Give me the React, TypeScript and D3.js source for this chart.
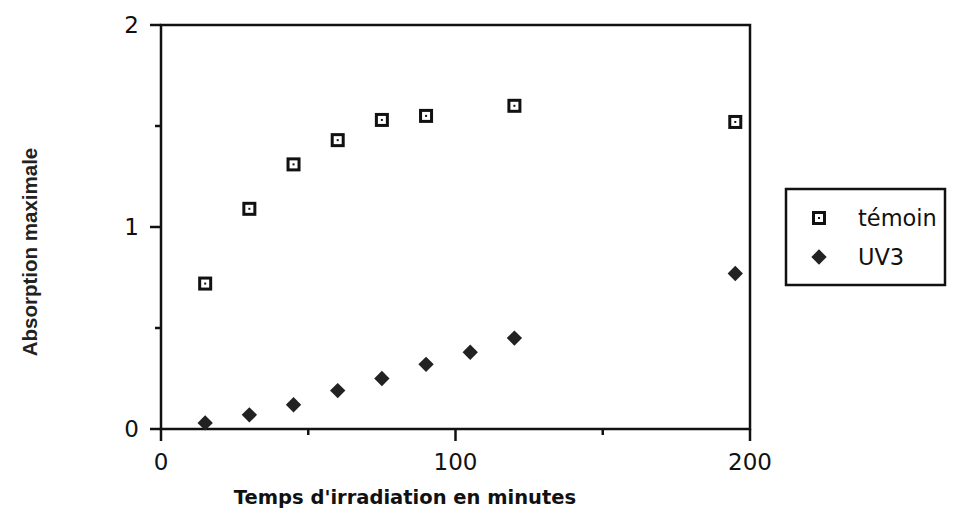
import * as d3 from 'd3';

// minutes
const temoinX = [15, 30, 45, 60, 75, 90, 120, 195];
const temoinY = [0.72, 1.09, 1.31, 1.43, 1.53, 1.55, 1.6, 1.52];
const uv3X = [15, 30, 45, 60, 75, 90, 105, 120, 195];
const uv3Y = [0.03, 0.07, 0.12, 0.19, 0.25, 0.32, 0.38, 0.45, 0.77];

const xMajor = [0, 100, 200];
const xMinor = [50, 150];
const yMajor = [0, 1, 2];
const yMinor = [0.5, 1.5];

const width = 956;
const height = 517;

export default function App() {
  const x = d3.scaleLinear().domain([0, 200]).range([161, 750]);
  const y = d3.scaleLinear().domain([0, 2]).range([429, 25]);

  const font = "'DejaVu Sans', Verdana, sans-serif";
  const diamond = d3.symbol(d3.symbolDiamond2, 150)()!;

  const square = (cx: number, cy: number, k: number) => (
    <g key={k} transform={`translate(${cx},${cy})`}>
      <rect x={-5.5} y={-5.5} width={11} height={11} fill='#fff' stroke='#111' strokeWidth={3} />
      <rect x={-1} y={-1} width={2} height={2} fill='#111' />
    </g>
  );

  return (
    <svg
      width={width}
      height={height}
      style={{ position: 'absolute', left: 0, top: 0, background: '#fff' }}
    >
      {/* frame */}
      <rect
        x={x(0)}
        y={y(2)}
        width={x(200) - x(0)}
        height={y(0) - y(2)}
        fill='none'
        stroke='#111'
        strokeWidth={2.5}
      />

      {/* y ticks */}
      {yMajor.map((v) => (
        <g key={'ym' + v}>
          <line x1={x(0) - 11} x2={x(0)} y1={y(v)} y2={y(v)} stroke='#111' strokeWidth={2.5} />
          <text
            x={x(0) - 22}
            y={y(v)}
            dy='0.36em'
            textAnchor='end'
            fontFamily={font}
            fontSize={23}
            fill='#111'
          >
            {v}
          </text>
        </g>
      ))}
      {yMinor.map((v) => (
        <line key={'yn' + v} x1={x(0) - 6} x2={x(0)} y1={y(v)} y2={y(v)} stroke='#111' strokeWidth={2.5} />
      ))}

      {/* x ticks */}
      {xMajor.map((v) => (
        <g key={'xm' + v}>
          <line x1={x(v)} x2={x(v)} y1={y(0)} y2={y(0) + 12} stroke='#111' strokeWidth={2.5} />
          <text
            x={x(v)}
            y={y(0) + 41}
            textAnchor='middle'
            fontFamily={font}
            fontSize={23}
            fill='#111'
          >
            {v}
          </text>
        </g>
      ))}
      {xMinor.map((v) => (
        <line key={'xn' + v} x1={x(v)} x2={x(v)} y1={y(0)} y2={y(0) + 6} stroke='#111' strokeWidth={2.5} />
      ))}

      {/* axis titles */}
      <text
        x={405}
        y={504}
        textAnchor='middle'
        fontFamily={font}
        fontWeight='bold'
        fontSize={19.5}
        fill='#111'
      >
        Temps d'irradiation en minutes
      </text>
      <text
        transform='translate(37,252) rotate(-90)'
        textAnchor='middle'
        fontFamily="'Liberation Sans', Arial, sans-serif"
        fontWeight='bold'
        fontSize={20.5}
        fill='#222'
      >
        Absorption maximale
      </text>

      {/* series */}
      {uv3X.map((v, i) => (
        <path key={'u' + i} d={diamond} transform={`translate(${x(v)},${y(uv3Y[i])})`} fill='#222' />
      ))}
      {temoinX.map((v, i) => square(x(v), y(temoinY[i]), i))}

      {/* legend */}
      <rect x={786} y={189} width={159} height={96} fill='#fff' stroke='#111' strokeWidth={2.5} />
      {square(819, 218, 100)}
      <text x={858} y={218} dy='0.36em' fontFamily={font} fontSize={22.5} fill='#111'>
        témoin
      </text>
      <path d={diamond} transform='translate(819,257)' fill='#222' />
      <text x={858} y={257} dy='0.36em' fontFamily={font} fontSize={22.5} fill='#111'>
        UV3
      </text>
    </svg>
  );
}
